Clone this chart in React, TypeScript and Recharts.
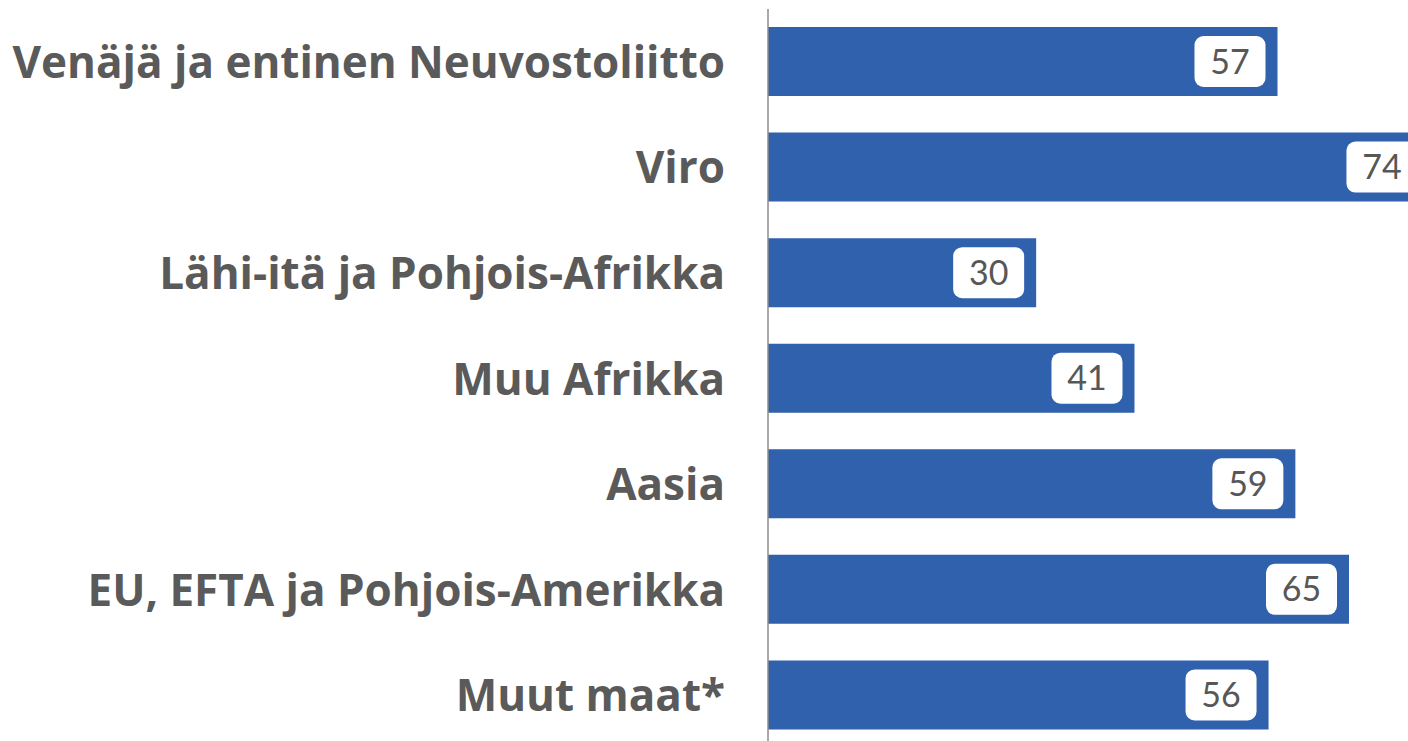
import { Bar, BarChart, LabelList, XAxis, YAxis } from "recharts";

const regions = [
  "Venäjä ja entinen Neuvostoliitto",
  "Viro",
  "Lähi-itä ja Pohjois-Afrikka",
  "Muu Afrikka",
  "Aasia",
  "EU, EFTA ja Pohjois-Amerikka",
  "Muut maat*",
];
const shares = [57, 74, 30, 41, 59, 65, 56];

const rows = regions.map((region, i) => ({ region, share: shares[i] }));

function RegionTick(props: any) {
  const { y, payload } = props;
  return (
    <text
      x={725}
      y={y}
      dy={16}
      textAnchor="end"
      fontFamily="'Open Sans', Lato, sans-serif"
      fontWeight={700}
      fontSize={44}
      fill="#5a5a5a"
    >
      {payload.value}
    </text>
  );
}

function ValueBox(props: any) {
  const { x, y, width, height, value } = props;
  const w = 71;
  const h = 51;
  const right = x + width - 12;
  const cy = y + height / 2;
  return (
    <g>
      <rect x={right - w} y={cy - h / 2} width={w} height={h} rx={9} fill="#ffffff" />
      <text
        x={right - w / 2}
        y={cy}
        dy={12}
        textAnchor="middle"
        fontFamily="Lato, 'Noto Sans', sans-serif"
        fontSize={34}
        fill="#575757"
      >
        {value}
      </text>
    </g>
  );
}

export default function App() {
  return (
    <div style={{ width: 1408, height: 741, overflow: "hidden", background: "#fff" }}>
      <style>{`body{margin:0;overflow:hidden}`}</style>
      <BarChart
        layout="vertical"
        width={1408}
        height={748}
        data={rows}
        margin={{ top: 9, right: 0, bottom: 0, left: 0 }}
      >
        <XAxis type="number" domain={[0, 71.6]} allowDataOverflow hide />
        <YAxis
          type="category"
          dataKey="region"
          width={768}
          tickLine={false}
          axisLine={{ stroke: "#8c8c8c", strokeWidth: 1.5 }}
          tick={<RegionTick />}
          interval={0}
        />
        <Bar dataKey="share" fill="#2f61ad" barSize={69} isAnimationActive={false}>
          <LabelList dataKey="share" content={<ValueBox />} />
        </Bar>
      </BarChart>
    </div>
  );
}
